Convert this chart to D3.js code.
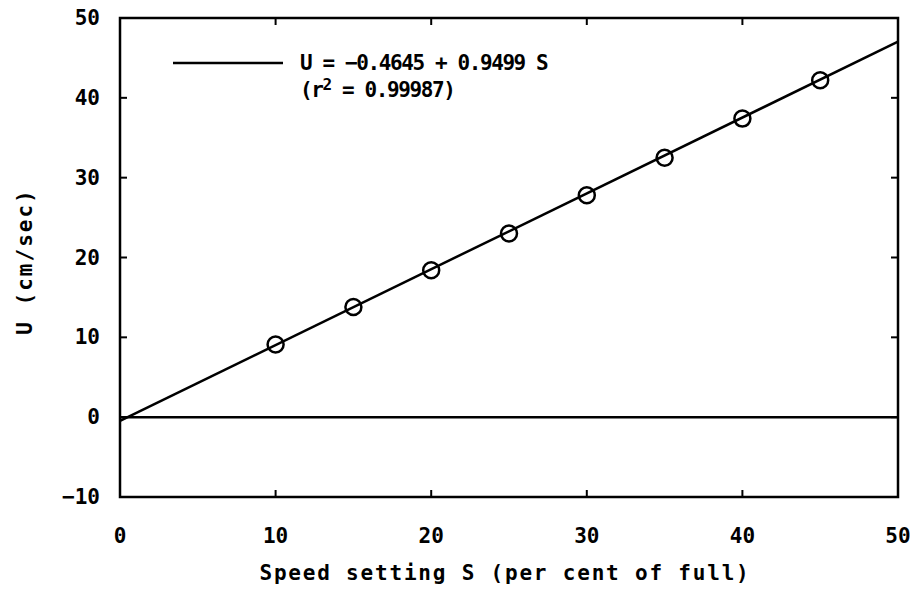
<!DOCTYPE html>
<html>
<head>
<meta charset="utf-8">
<script src="https://cdn.jsdelivr.net/npm/d3@7"></script>
<style>
  html, body { margin: 0; padding: 0; background: #fff; }
  text { font-family: "DejaVu Sans Mono", monospace; fill: #000; }
</style>
</head>
<body>
<div id="app"></div>
<script>
// measured points: speed setting (% of full) vs. U (cm/sec)
const speeds = [10, 15, 20, 25, 30, 35, 40, 45]
const velocities = [9.1, 13.8, 18.4, 23.0, 27.8, 32.5, 37.4, 42.2]

// regression fit U = a + b S
const fitA = -0.4645
const fitB = 0.9499

const xTicks = [0, 10, 20, 30, 40, 50]
const yTicks = [-10, 0, 10, 20, 30, 40, 50]

const W = 914, H = 589
const m = { left: 120, right: 16, top: 18, bottom: 92 }

const svg = d3.select("#app")
  .append("svg")
    .attr("width", W)
    .attr("height", H)

const x = d3.scaleLinear().domain([0, 50]).range([m.left, W - m.right])
const y = d3.scaleLinear().domain([-10, 50]).range([H - m.bottom, m.top])

// frame
svg.append("rect")
    .attr("x", x(0))
    .attr("y", y(50))
    .attr("width", x(50) - x(0))
    .attr("height", y(-10) - y(50))
    .attr("fill", "none")
    .attr("stroke", "#000")
    .attr("stroke-width", 2.5)

// inward ticks on all four sides
const tk = 7
const inner = svg.append("g").attr("stroke", "#000").attr("stroke-width", 2)
inner.selectAll("line.xb")
  .data(xTicks.slice(1, -1))
  .join("line")
    .attr("x1", d => x(d)).attr("x2", d => x(d))
    .attr("y1", y(-10)).attr("y2", y(-10) - tk)
inner.selectAll("line.xt")
  .data(xTicks.slice(1, -1))
  .join("line")
    .attr("x1", d => x(d)).attr("x2", d => x(d))
    .attr("y1", y(50)).attr("y2", y(50) + tk)
inner.selectAll("line.yl")
  .data(yTicks.slice(1, -1))
  .join("line")
    .attr("x1", x(0)).attr("x2", x(0) + tk)
    .attr("y1", d => y(d)).attr("y2", d => y(d))
inner.selectAll("line.yr")
  .data(yTicks.slice(1, -1))
  .join("line")
    .attr("x1", x(50)).attr("x2", x(50) - tk)
    .attr("y1", d => y(d)).attr("y2", d => y(d))

// tick labels
svg.append("g")
  .selectAll("text")
  .data(xTicks)
  .join("text")
    .attr("x", d => x(d))
    .attr("y", y(-10) + 46)
    .attr("text-anchor", "middle")
    .attr("font-size", 21)
    .attr("font-weight", "bold")
    .text(d => d)

svg.append("g")
  .selectAll("text")
  .data(yTicks)
  .join("text")
    .attr("x", x(0) - 20)
    .attr("y", d => y(d) + 7)
    .attr("text-anchor", "end")
    .attr("font-size", 21)
    .attr("font-weight", "bold")
    .text(d => d < 0 ? "\u2212" + Math.abs(d) : d)

// zero line
svg.append("line")
    .attr("x1", x(0)).attr("x2", x(50))
    .attr("y1", y(0)).attr("y2", y(0))
    .attr("stroke", "#000")
    .attr("stroke-width", 2.5)

// fit line
svg.append("line")
    .attr("x1", x(0)).attr("y1", y(fitA))
    .attr("x2", x(50)).attr("y2", y(fitA + fitB * 50))
    .attr("stroke", "#000")
    .attr("stroke-width", 2.5)

// data points
svg.append("g")
  .selectAll("circle")
  .data(speeds.map((s, i) => [s, velocities[i]]))
  .join("circle")
    .attr("cx", d => x(d[0]))
    .attr("cy", d => y(d[1]))
    .attr("r", 8)
    .attr("fill", "none")
    .attr("stroke", "#000")
    .attr("stroke-width", 2.5)

// legend
svg.append("line")
    .attr("x1", 173).attr("x2", 283)
    .attr("y1", 63).attr("y2", 63)
    .attr("stroke", "#000")
    .attr("stroke-width", 2.5)
svg.append("text")
    .attr("x", 300).attr("y", 70)
    .attr("font-size", 21)
    .attr("font-weight", "bold")
    .attr("letter-spacing", -1.4)
    .text("U = \u22120.4645 + 0.9499 S")
const r2 = svg.append("text")
    .attr("x", 300).attr("y", 97)
    .attr("font-size", 21)
    .attr("font-weight", "bold")
    .attr("letter-spacing", -1.4)
r2.append("tspan").text("(r")
r2.append("tspan").attr("dy", -7).attr("font-size", 16).text("2")
r2.append("tspan").attr("dy", 7).text(" = 0.99987)")

// axis titles
svg.append("text")
    .attr("x", (x(0) + x(50)) / 2 - 4)
    .attr("y", 580)
    .attr("text-anchor", "middle")
    .attr("font-size", 21)
    .attr("font-weight", "bold")
    .attr("letter-spacing", 1.8)
    .text("Speed setting S (per cent of full)")

svg.append("text")
    .attr("transform", `translate(32, ${y(20) + 4}) rotate(-90)`)
    .attr("text-anchor", "middle")
    .attr("font-size", 21)
    .attr("font-weight", "bold")
    .attr("letter-spacing", 2)
    .text("U (cm/sec)")
</script>
</body>
</html>
